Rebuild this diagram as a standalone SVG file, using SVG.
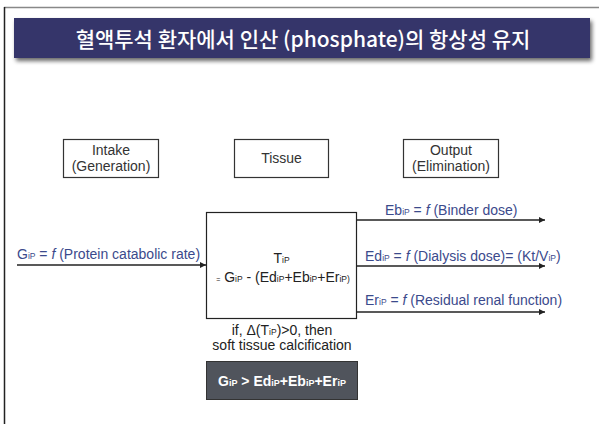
<svg xmlns="http://www.w3.org/2000/svg" width="599" height="424" viewBox="0 0 599 424">
<defs>
<marker id="ah" viewBox="0 0 10 10" refX="10" refY="5" markerWidth="8" markerHeight="6" orient="auto" markerUnits="userSpaceOnUse"><path d="M0,0 L10,5 L0,10 z" fill="#222"/></marker>
<filter id="sh" x="-5%" y="-20%" width="110%" height="160%"><feGaussianBlur in="SourceAlpha" stdDeviation="2"/><feOffset dx="2" dy="3"/><feComponentTransfer><feFuncA type="linear" slope="0.6"/></feComponentTransfer><feMerge><feMergeNode/><feMergeNode in="SourceGraphic"/></feMerge></filter>
</defs>
<style>
text{font-family:"Liberation Sans",Arial,sans-serif;}
.hdr{fill:#fff;stroke:#333;stroke-width:1.2;}
.ht{font-size:14px;fill:#333;text-anchor:middle;}
.bl{font-size:14px;fill:#3b4a8c;}
.bk{font-size:14px;fill:#222;}
.s{font-size:8.5px;}
.conn{stroke:#222;stroke-width:1.5;fill:none;}
</style>
<rect width="599" height="424" fill="#fff"/>
<line x1="4" y1="7.5" x2="599" y2="7.5" stroke="#888" stroke-width="1.5"/>
<line x1="4.5" y1="7" x2="4.5" y2="424" stroke="#222" stroke-width="1.5"/>
<g id="title">
<rect x="14" y="18" width="576" height="40" fill="#34346b" filter="url(#sh)"/>
<text x="303" y="47" font-size="21" fill="#fff" text-anchor="middle" style="font-family:'Noto Sans CJK KR','Liberation Sans',sans-serif;font-weight:500">혈액투석 환자에서 인산 (phosphate)의 항상성 유지</text>
</g>
<g id="intake">
<rect class="hdr" x="63.5" y="139.5" width="95" height="38"/>
<text class="ht" x="111" y="155">Intake</text>
<text class="ht" x="111" y="171">(Generation)</text>
</g>
<g id="tissue-hdr">
<rect class="hdr" x="234.5" y="139.5" width="94" height="38"/>
<text class="ht" x="281.5" y="163">Tissue</text>
</g>
<g id="output">
<rect class="hdr" x="403.5" y="139.5" width="95" height="38" stroke-width="1.8"/>
<text class="ht" x="451" y="155">Output</text>
<text class="ht" x="451" y="171">(Elimination)</text>
</g>
<g id="connectors">
<line class="conn" x1="17" y1="265" x2="206" y2="265" marker-end="url(#ah)"/>
<line class="conn" x1="357" y1="220" x2="545" y2="220" marker-end="url(#ah)"/>
<line class="conn" x1="357" y1="266" x2="545" y2="266" marker-end="url(#ah)"/>
<line class="conn" x1="357" y1="312" x2="545" y2="312" marker-end="url(#ah)"/>
</g>
<g id="tissue-box">
<rect x="206.5" y="212.5" width="150" height="106" fill="#fff" stroke="#222" stroke-width="1.2"/>
<text class="bk" x="281.5" y="263" text-anchor="middle">T<tspan class="s">iP</tspan></text>
<text class="bk" x="283" y="282" text-anchor="middle"><tspan font-size="7">=</tspan> G<tspan class="s">iP</tspan> - (Ed<tspan class="s">iP</tspan>+Eb<tspan class="s">iP</tspan>+Er<tspan class="s">iP)</tspan></text>
</g>
<g id="labels">
<text class="bl" x="17" y="259">G<tspan class="s">iP</tspan> = <tspan font-style="italic">f</tspan> (Protein catabolic rate)</text>
<text class="bl" x="385" y="215">Eb<tspan class="s">iP</tspan> = <tspan font-style="italic">f</tspan> (Binder dose)</text>
<text class="bl" x="365" y="261">Ed<tspan class="s">iP</tspan> = <tspan font-style="italic">f</tspan> (Dialysis dose)= (Kt/V<tspan class="s">iP</tspan>)</text>
<text class="bl" x="365" y="305">Er<tspan class="s">iP</tspan> = <tspan font-style="italic">f</tspan> (Residual renal function)</text>
</g>
<g id="condition">
<text class="bk" x="282" y="335" text-anchor="middle" fill="#333">if, Δ(T<tspan class="s">iP</tspan>)&gt;0, then</text>
<text class="bk" x="282" y="350" text-anchor="middle" fill="#333">soft tissue calcification</text>
</g>
<g id="inequality">
<rect x="206.5" y="361.5" width="151" height="38" fill="#50545c" stroke="#333" stroke-width="1"/>
<text x="282" y="386" font-size="14" font-weight="bold" fill="#fff" text-anchor="middle">G<tspan font-size="9">iP</tspan> &gt; Ed<tspan font-size="9">iP</tspan>+Eb<tspan font-size="9">iP</tspan>+Er<tspan font-size="9">iP</tspan></text>
</g>
</svg>
